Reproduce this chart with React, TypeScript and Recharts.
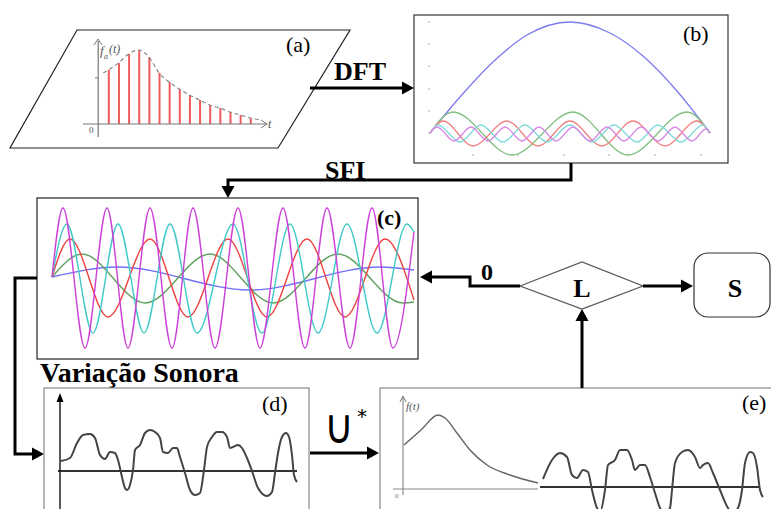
import { ComposedChart, Line, Bar, XAxis, YAxis, ReferenceLine } from 'recharts';
import type { ReactNode } from 'react';

type Pt = [number, number];

// (a) sampled signal: stem index and amplitude
const stemIndex = [1, 2, 3, 4, 5, 6, 7, 8, 9, 10, 11, 12, 13, 14, 15];
const stemValues = [54, 61, 70, 74, 67, 51, 42, 35, 29, 24, 19, 16, 12, 9, 6];
const envelopeIndex = [0.5, ...stemIndex, 16];
const envelopeValues = [51, ...stemValues, 4];

// (b) DFT basis curves
const bBlue: Pt[] = [[0, 0], [30, 36], [63, 71], [97, 98], [140, 111], [180, 100], [213, 77], [247, 42], [280, 0]];
const bGreen: Pt[] = [[0, 0], [23, 21], [82, -22], [143, 21], [198, -22], [257, 21], [280, 0]];
const bRed: Pt[] = [[0, 0], [13, 12], [43, -13], [77, 12], [108, -13], [140, 12], [172, -13], [203, 12], [235, -13], [267, 12], [280, 0]];
const bCyan: Pt[] = [[0, 0], [8, 8], [30, -9], [51, 8], [73, -9], [95, 8], [117, -9], [140, 8], [162, -9], [184, 8], [207, -9], [228, 8], [251, -9], [273, 8], [280, 0]];
const bMagenta: Pt[] = [[0, 0], [7, 6], [24, -8], [41, 6], [58, -8], [75, 6], [92, -8], [109, 6], [126, -8], [143, 6], [160, -8], [177, 6], [194, -8], [211, 6], [228, -8], [245, 6], [262, -8], [276, 4], [280, 0]];
const bTicksY = [0, 22, 44, 67, 89, 111];
const bTicksX = [43, 88, 134, 179, 225, 271];

// (c) SFI components
const cMagenta: Pt[] = [[0, 0], [11, 69], [33, -71], [55, 69], [76, -71], [98, 69], [120, -71], [141, 69], [163, -71], [186, 69], [208, -71], [231, 69], [253, -71], [275, 69], [298, -71], [320, 69], [341, -71], [362, 45]];
const cCyan: Pt[] = [[0, 0], [15, 53], [41, -56], [66, 53], [92, -56], [118, 53], [145, -56], [181, 53], [210, -56], [238, 53], [266, -56], [295, 53], [325, -56], [355, 53], [362, 45]];
const cRed: Pt[] = [[0, 0], [18, 38], [56, -40], [98, 38], [136, -40], [176, 38], [215, -40], [255, 38], [293, -40], [333, 38], [362, -23]];
const cGreen: Pt[] = [[0, 0], [30, 23], [93, -26], [158, 23], [221, -26], [286, 23], [351, -26], [362, -25]];
const cBlue: Pt[] = [[0, 0], [66, 10], [198, -13], [328, 10], [362, 7]];

// (d) variação sonora
const dSignal: Pt[] = [
  [1, 10], [10, 13], [17, 28], [23, 36], [30, 37], [35, 33], [40, 16], [45, 12], [50, 19], [55, 18],
  [58, 11], [62, -6], [65, -17], [67, -19], [70, -14], [73, 1], [75, 21], [80, 26], [85, 38], [90, 41],
  [95, 39], [100, 33], [103, 19], [108, 18], [113, 23], [117, 23], [120, 14], [125, -2], [130, -19], [135, -24],
  [140, -22], [144, 1], [147, 24], [152, 34], [157, 39], [162, 39], [167, 34], [170, 23], [173, 24], [178, 26],
  [182, 23], [187, 13], [192, 0], [198, -17], [207, -25], [212, -21], [215, -2], [218, 18], [222, 34], [226, 38],
  [229, 34], [232, 16], [234, -4], [237, -11],
];

// (e) f(t) followed by the sound variation
const eDecay: Pt[] = [[0, 44], [17, 59], [34, 74], [41, 71], [53, 56], [66, 39], [83, 24], [106, 14], [134, 6]];
const eSignal: Pt[] = [
  [139, 10], [148, 29], [156, 36], [163, 32], [168, 14], [173, 11], [179, 19], [184, 17], [188, -1], [193, -19],
  [196, -23], [201, -1], [204, 24], [211, 29], [216, 39], [223, 39], [228, 29], [231, 19], [236, 24], [241, 24],
  [246, 12], [251, -4], [256, -19], [261, -24], [266, -19], [268, -1], [271, 26], [278, 37], [284, 39], [291, 32],
  [296, 21], [299, 24], [304, 26], [309, 16], [316, -1], [324, -19], [329, -24], [334, -19], [338, -1], [341, 26],
  [346, 37], [349, 36], [353, 22], [356, -1], [359, -8],
];

const SERIF = 'Liberation Serif, DejaVu Serif, serif';
const rows = (pts: Pt[]) => pts.map(([t, v]) => ({ t, v }));
const stemRows = stemIndex.map((t, i) => ({ t, v: stemValues[i] }));
const envelopeRows = envelopeIndex.map((t, i) => ({ t, v: envelopeValues[i] }));

interface PanelProps {
  left: number;
  top: number;
  width: number;
  height: number;
  xDomain: [number, number];
  yDomain: [number, number];
  data?: { t: number; v: number }[];
  children: ReactNode;
}

function Panel({ left, top, width, height, xDomain, yDomain, data, children }: PanelProps) {
  return (
    <div style={{ position: 'absolute', left, top }}>
      <ComposedChart width={width} height={height} data={data} margin={{ top: 0, right: 0, bottom: 0, left: 0 }}>
        <XAxis type="number" dataKey="t" domain={xDomain} allowDataOverflow hide />
        <YAxis type="number" domain={yDomain} allowDataOverflow hide />
        {children}
      </ComposedChart>
    </div>
  );
}

function wave(pts: Pt[], color: string, width = 1.3, key?: string) {
  return (
    <Line
      key={key}
      data={rows(pts)}
      dataKey="v"
      type="monotone"
      stroke={color}
      strokeWidth={width}
      dot={false}
      isAnimationActive={false}
    />
  );
}

function Head({ x, y, dir, size = 12, half = 6.5 }: { x: number; y: number; dir: 'l' | 'r' | 'u' | 'd'; size?: number; half?: number }) {
  let pts = '';
  if (dir === 'r') pts = `${x},${y} ${x - size},${y - half} ${x - size},${y + half}`;
  if (dir === 'l') pts = `${x},${y} ${x + size},${y - half} ${x + size},${y + half}`;
  if (dir === 'u') pts = `${x},${y} ${x - half},${y + size} ${x + half},${y + size}`;
  if (dir === 'd') pts = `${x},${y} ${x - half},${y - size} ${x + half},${y - size}`;
  return <polygon points={pts} fill="#000" />;
}

function Frame() {
  const thick = { stroke: '#000', strokeWidth: 3, fill: 'none' };
  const serif = { fontFamily: SERIF };
  return (
    <svg width={771} height={509} style={{ position: 'absolute', left: 0, top: 0, pointerEvents: 'none', fontFamily: SERIF }}>
      {/* (a) */}
      <polygon points="77,30 350,30 278,148 10,148" fill="none" stroke="#222" strokeWidth={1.2} />
      <polyline points="94,45 98,39 102,45" fill="none" stroke="#777" strokeWidth={1} />
      <polyline points="261,120 267,124 261,128" fill="none" stroke="#777" strokeWidth={1} />
      <line x1={95} y1={78} x2={98} y2={78} stroke="#777" />
      <text x={100} y={55} style={serif} fontStyle="italic" fontSize={13} fill="#555">f</text>
      <text x={104} y={59} style={serif} fontStyle="italic" fontSize={8} fill="#555">a</text>
      <text x={109} y={53} style={serif} fontStyle="italic" fontSize={12} fill="#555">(t)</text>
      <text x={268} y={128} style={serif} fontStyle="italic" fontSize={12} fill="#555">t</text>
      <text x={89} y={133} style={serif} fontSize={9} fill="#555">0</text>
      <text x={286} y={52} style={serif} fontSize={22}>(a)</text>

      {/* DFT */}
      <line x1={310} y1={88} x2={403} y2={88} {...thick} />
      <Head x={414} y={88} dir="r" />
      <text x={334} y={80} style={serif} fontWeight="bold" fontSize={26}>DFT</text>

      {/* (b) */}
      <rect x={414} y={15} width={314} height={148} fill="none" stroke="#333" strokeWidth={1.2} />
      <text x={683} y={41} style={serif} fontSize={22}>(b)</text>

      {/* SFI */}
      <polyline points="571,163 571,180 228,180 228,187" {...thick} />
      <Head x={228} y={198} dir="d" />
      <text x={325} y={179} style={serif} fontWeight="bold" fontSize={26}>SFI</text>

      {/* (c) */}
      <rect x={37} y={198} width={381} height={161} fill="none" stroke="#222" strokeWidth={1.2} />
      <text x={377} y={225} style={serif} fontWeight="bold" fontSize={22}>(c)</text>

      {/* (c) -> (d) */}
      <polyline points="37,278 15,278 15,454 33,454" {...thick} />
      <Head x={44} y={454} dir="r" />
      <text x={40} y={382} style={serif} fontWeight="bold" fontSize={28}>Variação Sonora</text>

      {/* (d) */}
      <rect x={44} y={388} width={265} height={130} fill="none" stroke="#888" strokeWidth={1.2} />
      <Head x={60} y={393} dir="u" size={9} half={3.5} />
      <text x={262} y={411} style={serif} fontSize={22}>(d)</text>

      {/* (d) -> (e) */}
      <line x1={310} y1={453} x2={368} y2={453} {...thick} />
      <Head x={379} y={453} dir="r" />
      <text x={339} y={443} textAnchor="middle" style={{ fontFamily: 'DejaVu Sans, sans-serif', fontWeight: 200 }} fontSize={48} transform="translate(339 0) scale(0.85 1) translate(-339 0)">∪</text>
      <text x={357} y={423} style={{ fontFamily: 'DejaVu Sans, sans-serif' }} fontSize={20}>*</text>

      {/* (e) */}
      <rect x={380} y={388} width={400} height={130} fill="none" stroke="#888" strokeWidth={1.2} />
      <polyline points="400,402 403,396 406,402" fill="none" stroke="#777" strokeWidth={1} />
      <text x={406} y={410} style={serif} fontStyle="italic" fontSize={11} fill="#555">f(t)</text>
      <text x={395} y={498} style={serif} fontSize={7} fill="#777">0</text>
      <text x={742} y={410} style={serif} fontSize={22}>(e)</text>

      {/* (e) -> L */}
      <line x1={582} y1={388} x2={582} y2={320} {...thick} />
      <Head x={582} y={309} dir="u" />
      <polygon points="520,286 582,262 643,286 582,309" fill="#fff" stroke="#555" strokeWidth={1.2} />
      <text x={582} y={297} textAnchor="middle" style={serif} fontWeight="bold" fontSize={26}>L</text>

      {/* L -> S */}
      <line x1={643} y1={286} x2={682} y2={286} {...thick} />
      <Head x={693} y={286} dir="r" />
      <rect x={694} y={253} width={76} height={64} rx={14} fill="none" stroke="#333" strokeWidth={1.2} />
      <text x={735} y={297} textAnchor="middle" style={serif} fontWeight="bold" fontSize={26}>S</text>

      {/* L -> (c) */}
      <polyline points="520,286 470,286 470,277 431,277" {...thick} />
      <Head x={420} y={277} dir="l" />
      <text x={481} y={280} style={serif} fontWeight="bold" fontSize={24}>0</text>
    </svg>
  );
}

export default function App() {
  return (
    <div style={{ position: 'absolute', left: 0, top: 0, width: 771, height: 509, overflow: 'hidden', background: '#fff' }}>
      {/* (a) stems */}
      <Panel left={83} top={40} width={190} height={97} xDomain={[-1.5, 17.24]} yDomain={[-13, 84]} data={stemRows}>
        <ReferenceLine segment={[{ x: -1.5, y: 0 }, { x: 16.7, y: 0 }]} stroke="#777" strokeWidth={1.2} />
        <ReferenceLine segment={[{ x: 0, y: -13 }, { x: 0, y: 83 }]} stroke="#777" strokeWidth={1.2} />
        <Bar dataKey="v" barSize={2} fill="#ef5a5a" isAnimationActive={false} />
        <Line data={envelopeRows} dataKey="v" type="monotone" stroke="#888" strokeWidth={1.2} strokeDasharray="4 3" dot={false} isAnimationActive={false} />
      </Panel>

      {/* (b) */}
      <Panel left={426} top={16} width={286} height={146} xDomain={[-4, 282]} yDomain={[-29, 117]}>
        {bTicksY.map(v => (
          <ReferenceLine key={`ty${v}`} segment={[{ x: -2, y: v }, { x: 0, y: v }]} stroke="#aaa" />
        ))}
        {bTicksX.map(t => (
          <ReferenceLine key={`tx${t}`} segment={[{ x: t, y: -21 }, { x: t, y: -23 }]} stroke="#aaa" />
        ))}
        {wave(bBlue, '#7b7bf0', 1.3, 'b1')}
        {wave(bGreen, '#7fbf7f', 1.3, 'b2')}
        {wave(bRed, '#f08080', 1.3, 'b3')}
        {wave(bCyan, '#80dada', 1.3, 'b4')}
        {wave(bMagenta, '#d98ae6', 1.3, 'b5')}
      </Panel>

      {/* (c) */}
      <Panel left={38} top={199} width={379} height={159} xDomain={[-14, 365]} yDomain={[-81, 78]}>
        {wave(cBlue, '#7070f8', 1.4, 'c1')}
        {wave(cGreen, '#5fa05f', 1.4, 'c2')}
        {wave(cRed, '#f04040', 1.4, 'c3')}
        {wave(cCyan, '#40c8c8', 1.4, 'c4')}
        {wave(cMagenta, '#cc40d8', 1.4, 'c5')}
      </Panel>

      {/* (d) */}
      <Panel left={45} top={389} width={262} height={140} xDomain={[-15, 247]} yDomain={[-58, 82]}>
        <ReferenceLine segment={[{ x: -2, y: 0 }, { x: 237, y: 0 }]} stroke="#333" strokeWidth={2} />
        <ReferenceLine segment={[{ x: 0, y: -58 }, { x: 0, y: 76 }]} stroke="#222" strokeWidth={1.5} />
        {wave(dSignal, '#444', 2, 'd1')}
      </Panel>

      {/* (e) */}
      <Panel left={381} top={389} width={392} height={140} xDomain={[-23, 369]} yDomain={[-40, 100]}>
        <ReferenceLine segment={[{ x: -11, y: 0 }, { x: 134, y: 0 }]} stroke="#888" strokeWidth={1} />
        <ReferenceLine segment={[{ x: 136, y: 2 }, { x: 356, y: 2 }]} stroke="#333" strokeWidth={2} />
        <ReferenceLine segment={[{ x: -1, y: -6 }, { x: -1, y: 92 }]} stroke="#777" strokeWidth={1} />
        {wave(eDecay, '#666', 1.5, 'e1')}
        {wave(eSignal, '#444', 2, 'e2')}
      </Panel>

      <Frame />
    </div>
  );
}
